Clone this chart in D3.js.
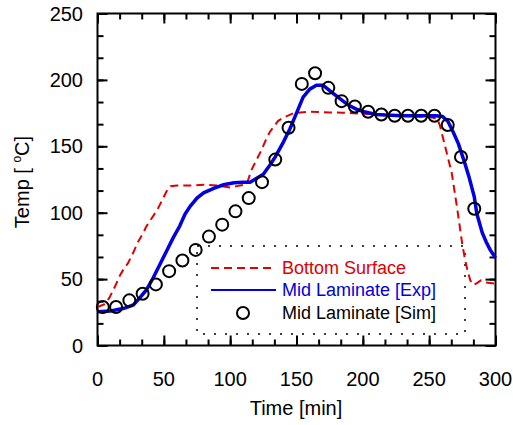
<!DOCTYPE html>
<html>
<head>
<meta charset="utf-8">
<script src="https://cdn.jsdelivr.net/npm/d3@7"></script>
<style>
  body { margin: 0; background: #fff; }
  svg { font-family: "Liberation Sans", Arial, sans-serif; }
</style>
</head>
<body>
<script>
// bottom surface (red dashed)
var bottomT = [0,5,9,13,17,20,23,27,30,34,37,41,45,48,52,55,60,70,80,90,100,105,110,113,116,120,123,127,130,133,136,140,148,160,175,185,204,229,250,256,258,260,262,265,267,269,271,273,275,277,279,281,283.5,286,289,293,300];
var bottomV = [29,31,36,44,53,58,62,70,77,84,90,96,102,108,116,120,120.5,120.5,121,120.5,119,120,121,123,132,140,146,155,161,165,169,171.5,175,176,175.5,175.3,174.4,173,172,171,166,158,150,138,130,117,104,90,76,65,56,49,45.5,47,49,47.5,46.5];

// mid laminate experiment (blue line)
var expT = [0,10,20,27,32,37,42,47,52,57,62,66,70,75,80,88,95,103,110,115,120,125,130,134,140,145,150,155,160,165,170,175,180,189,195,201,210,217,230,242,255,260,264,268,272,276,280,284,286,290,293,296,300];
var expV = [25.5,26,28,30.5,36,42,51,61,71,81,90,99,105,111,115,118.5,121,122.5,123,123,126,129,136,142,153,163,175,187,193,196,196,192,188,181,178,176,174,173.5,173,173,173,172.5,169,161,152,140,127,112,99,85,78,72,66];

// mid laminate simulation (circles)
var simT = [4,14,24,34,44,54,64,74,84,94,104,114,124,134,144,154,164,174,184,194,204,214,224,234,244,254,264,274,284];
var simV = [29,29,34,39,46,56,64,72,82,91,101,111,123,140,164,197,205,194,184,180,176,174,173,173,173,173,166,142,103];

var xMajor = [0,50,100,150,200,250,300];
var yMajor = [0,50,100,150,200,250];
var legendNames = ["Bottom Surface","Mid Laminate [Exp]","Mid Laminate [Sim]"];

var width = 513, height = 425;
var plotL = 97.5, plotR = 495.5, plotT = 13.5, plotB = 345.5;

var svg = d3.select("body").append("svg")
    .attr("width", width)
    .attr("height", height);

var x = d3.scaleLinear().domain([0,300]).range([plotL,plotR]);
var y = d3.scaleLinear().domain([0,250]).range([plotB,plotT]);

var minorX = d3.range(0,19).map(function(i){ return i*50/3; });
var minorY = d3.range(0,16).map(function(i){ return i*50/3; });

function tickAxis(gen, tr, vals, size){
    var g = svg.append("g").attr("transform", tr)
        .call(gen.tickValues(vals).tickSize(size).tickFormat(""));
    g.select(".domain").remove();
    g.selectAll(".tick line").attr("stroke","#000").attr("stroke-width",2);
}
// ticks inside on all four sides
tickAxis(d3.axisBottom(x), "translate(0,"+plotB+")", minorX, -6);
tickAxis(d3.axisBottom(x), "translate(0,"+plotB+")", xMajor, -10);
tickAxis(d3.axisTop(x), "translate(0,"+plotT+")", minorX, -6);
tickAxis(d3.axisTop(x), "translate(0,"+plotT+")", xMajor, -10);
tickAxis(d3.axisLeft(y), "translate("+plotL+",0)", minorY, -6);
tickAxis(d3.axisLeft(y), "translate("+plotL+",0)", yMajor, -10);
tickAxis(d3.axisRight(y), "translate("+plotR+",0)", minorY, -6);
tickAxis(d3.axisRight(y), "translate("+plotR+",0)", yMajor, -10);

svg.append("rect")
    .attr("x",plotL).attr("y",plotT)
    .attr("width",plotR-plotL).attr("height",plotB-plotT)
    .attr("fill","none").attr("stroke","#000").attr("stroke-width",2);

// tick labels
svg.selectAll(".xl").data(xMajor).enter().append("text")
    .attr("x", function(d){ return x(d); })
    .attr("y", 386)
    .attr("text-anchor","middle")
    .attr("font-size",20)
    .text(function(d){ return d; });

svg.selectAll(".yl").data(yMajor).enter().append("text")
    .attr("x", 83)
    .attr("y", function(d){ return y(d)+7; })
    .attr("text-anchor","end")
    .attr("font-size",20)
    .text(function(d){ return d; });

svg.append("text")
    .attr("x", 296).attr("y", 415)
    .attr("text-anchor","middle")
    .attr("font-size",20)
    .text("Time [min]");

var yl = svg.append("text")
    .attr("transform","translate(29,182) rotate(-90)")
    .attr("text-anchor","middle")
    .attr("font-size",20);
yl.append("tspan").text("Temp [ ");
yl.append("tspan").attr("font-size",12).attr("dy",-8).text("o");
yl.append("tspan").attr("dy",8).text("C]");

// legend box
svg.append("rect")
    .attr("x",197).attr("y",246)
    .attr("width",268).attr("height",88)
    .attr("fill","#fff")
    .attr("stroke","#000").attr("stroke-width",1.5)
    .attr("stroke-dasharray","2,9");

var line = d3.line()
    .x(function(d){ return x(d[0]); })
    .y(function(d){ return y(d[1]); });

svg.append("path")
    .datum(d3.zip(bottomT, bottomV))
    .attr("d", line)
    .attr("fill","none")
    .attr("stroke","#e00000")
    .attr("stroke-width",2)
    .attr("stroke-dasharray","8,5");

svg.append("path")
    .datum(d3.zip(expT, expV))
    .attr("d", line)
    .attr("fill","none")
    .attr("stroke","#0000e0")
    .attr("stroke-width",3.5);

svg.selectAll(".sim").data(d3.zip(simT, simV)).enter().append("circle")
    .attr("cx", function(d){ return x(d[0]); })
    .attr("cy", function(d){ return y(d[1]); })
    .attr("r", 6)
    .attr("fill","none")
    .attr("stroke","#000")
    .attr("stroke-width",2);

// legend entries
var legY = [268, 290, 313];
var legCol = ["#e00000","#0000e0","#000"];
svg.append("line").attr("x1",211).attr("x2",276).attr("y1",legY[0]).attr("y2",legY[0])
    .attr("stroke",legCol[0]).attr("stroke-width",2).attr("stroke-dasharray","8,5");
svg.append("line").attr("x1",211).attr("x2",276).attr("y1",legY[1]).attr("y2",legY[1])
    .attr("stroke",legCol[1]).attr("stroke-width",2);
svg.append("circle").attr("cx",243).attr("cy",legY[2]).attr("r",6)
    .attr("fill","none").attr("stroke","#000").attr("stroke-width",2);

svg.selectAll(".lt").data(legendNames).enter().append("text")
    .attr("x", 282)
    .attr("y", function(d,i){ return legY[i]+6; })
    .attr("font-size",18)
    .attr("fill", function(d,i){ return legCol[i]; })
    .text(function(d){ return d; });
</script>
</body>
</html>
